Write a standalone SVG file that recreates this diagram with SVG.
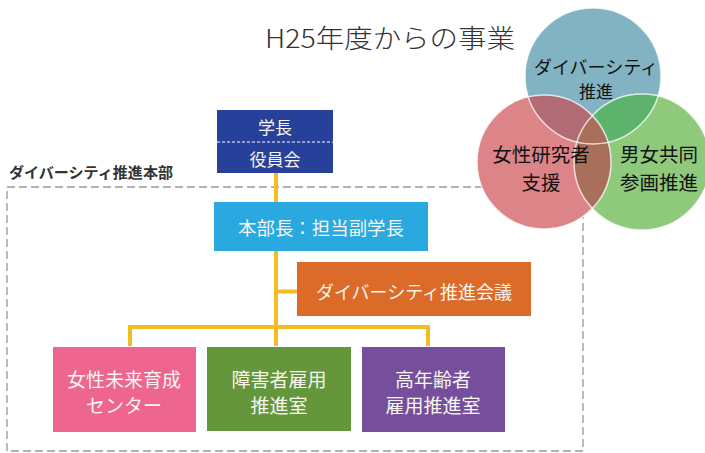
<svg xmlns="http://www.w3.org/2000/svg" width="705" height="453" viewBox="0 0 705 453">
<defs>
<style>
.t{font-family:"Noto Sans CJK JP","Noto Sans",sans-serif;dominant-baseline:central;text-anchor:middle}
.w{fill:#f7f5ef}
.k{fill:#111}
.conn{stroke:#f4bb23;stroke-width:4;fill:none}
</style>
<clipPath id="cBlue"><circle cx="593" cy="76" r="68"/></clipPath>
<clipPath id="cGreen"><circle cx="642" cy="162" r="68"/></clipPath>
</defs>
<rect width="705" height="453" fill="#fff"/>

<g id="title"><text class="t" x="390" y="36" font-size="26" font-weight="300" fill="#333" textLength="250" lengthAdjust="spacingAndGlyphs">H25年度からの事業</text></g>

<g id="hq-frame">
<rect x="7" y="187" width="576" height="264" fill="none" stroke="#999" stroke-width="1.3" stroke-dasharray="8,4"/>
<text class="t" x="91" y="171" font-size="15" font-weight="bold" fill="#333" textLength="164" lengthAdjust="spacingAndGlyphs">ダイバーシティ推進本部</text>
</g>

<g id="connectors">
<path class="conn" d="M276,173 V346 M276,291.5 H297 M130,346 V327 H428 V346"/>
</g>

<g id="president">
<rect x="217" y="110" width="116" height="63" fill="#27419b"/>
<line x1="217" y1="142" x2="333" y2="142" stroke="#fff" stroke-width="1" stroke-dasharray="3,2"/>
<text class="t w" x="275" y="126" font-size="17">学長</text>
<text class="t w" x="275" y="158" font-size="17">役員会</text>
</g>

<g id="head">
<rect x="214" y="202" width="214" height="49" fill="#29a9e0"/>
<text class="t w" x="321" y="227" font-size="18" textLength="166" lengthAdjust="spacingAndGlyphs">本部長：担当副学長</text>
</g>

<g id="council">
<rect x="297" y="262" width="234" height="54" fill="#dc6a28"/>
<text class="t w" x="414" y="291" font-size="18">ダイバーシティ推進会議</text>
</g>

<g id="women-center">
<rect x="53" y="347" width="143" height="85" fill="#ee6590"/>
<text class="t w" x="124" y="378" font-size="19">女性未来育成</text>
<text class="t w" x="124" y="404" font-size="19">センター</text>
</g>

<g id="disability">
<rect x="207" y="347" width="144" height="84" fill="#64963c"/>
<text class="t w" x="279" y="378" font-size="19">障害者雇用</text>
<text class="t w" x="279" y="404" font-size="19">推進室</text>
</g>

<g id="elderly">
<rect x="362" y="347" width="143" height="85" fill="#764f9c"/>
<text class="t w" x="433" y="378" font-size="19">高年齢者</text>
<text class="t w" x="433" y="404" font-size="19">雇用推進室</text>
</g>

<g id="venn">
<circle cx="593" cy="76" r="68" fill="#82b3c2"/>
<circle cx="642" cy="162" r="68" fill="#8fca7c"/>
<circle cx="544" cy="162" r="67" fill="#dc8487"/>
<circle cx="642" cy="162" r="68" fill="#5db36b" clip-path="url(#cBlue)"/>
<circle cx="544" cy="162" r="67" fill="#b06b74" clip-path="url(#cBlue)"/>
<circle cx="544" cy="162" r="67" fill="#a8705a" clip-path="url(#cGreen)"/>
<g fill="none" stroke="#fff" stroke-width="1.5" stroke-opacity="0.75">
<circle cx="593" cy="76" r="68"/>
<circle cx="642" cy="162" r="68"/>
<circle cx="544" cy="162" r="67"/>
</g>
</g>

<g id="venn-diversity"><text class="t k" x="596" y="66" font-size="18">ダイバーシティ</text><text class="t k" x="596" y="90" font-size="17">推進</text></g>
<g id="venn-women"><text class="t k" x="541" y="153" font-size="19.5">女性研究者</text><text class="t k" x="541" y="181" font-size="19.5">支援</text></g>
<g id="venn-equality"><text class="t k" x="659" y="153" font-size="19.5">男女共同</text><text class="t k" x="659" y="181" font-size="19.5">参画推進</text></g>
</svg>
